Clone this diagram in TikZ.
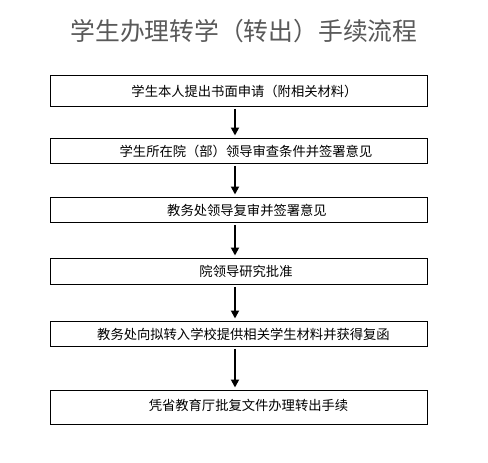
\documentclass[tikz,border=0pt]{standalone}
\usepackage{fontspec}
\setmainfont{Noto Sans CJK SC}
\newfontfamily\cjk{Noto Sans CJK SC}
\usetikzlibrary{arrows.meta}
\tikzset{
  stepbox/.style={draw=black, line width=0.9pt, minimum width=377pt, inner sep=0pt,
    font=\cjk\fontsize{13.3pt}{15pt}\selectfont, anchor=north},
  flowarrow/.style={line width=1.8pt, -{Triangle[width=8pt,length=8pt]},
    shorten <=2pt, shorten >=2.5pt},
}
\begin{document}
\begin{tikzpicture}[x=1pt,y=-1pt]
\useasboundingbox (0,0) rectangle (488,463);
\node[font=\cjk\fontsize{24.8pt}{28pt}\selectfont, text=black!65] (title) at (244,31) {学生办理转学（转出）手续流程};
\node[stepbox, minimum height=31pt] (b1) at (238.5,75) {\hspace*{12pt}学生本人提出书面申请（附相关材料）};
\node[stepbox, minimum height=25pt] (b2) at (238.5,138) {\hspace*{15pt}学生所在院（部）领导审查条件并签署意见};
\node[stepbox, minimum height=25pt] (b3) at (238.5,197) {\hspace*{17pt}教务处领导复审并签署意见};
\node[stepbox, minimum height=26pt] (b4) at (238.5,258) {\hspace*{15pt}院领导研究批准};
\node[stepbox, minimum height=25pt] (b5) at (238.5,321) {\hspace*{10pt}教务处向拟转入学校提供相关学生材料并获得复函};
\node[stepbox, minimum height=34pt] (b6) at (238.5,390) {\hspace*{20pt}凭省教育厅批复文件办理转出手续\raisebox{0pt}[0pt][5pt]{}};
\foreach \a/\b in {b1/b2,b2/b3,b3/b4,b4/b5,b5/b6}{
  \draw[flowarrow] (\a.south -| 235,0) -- (\b.north -| 235,0);
}
\end{tikzpicture}
\end{document}
